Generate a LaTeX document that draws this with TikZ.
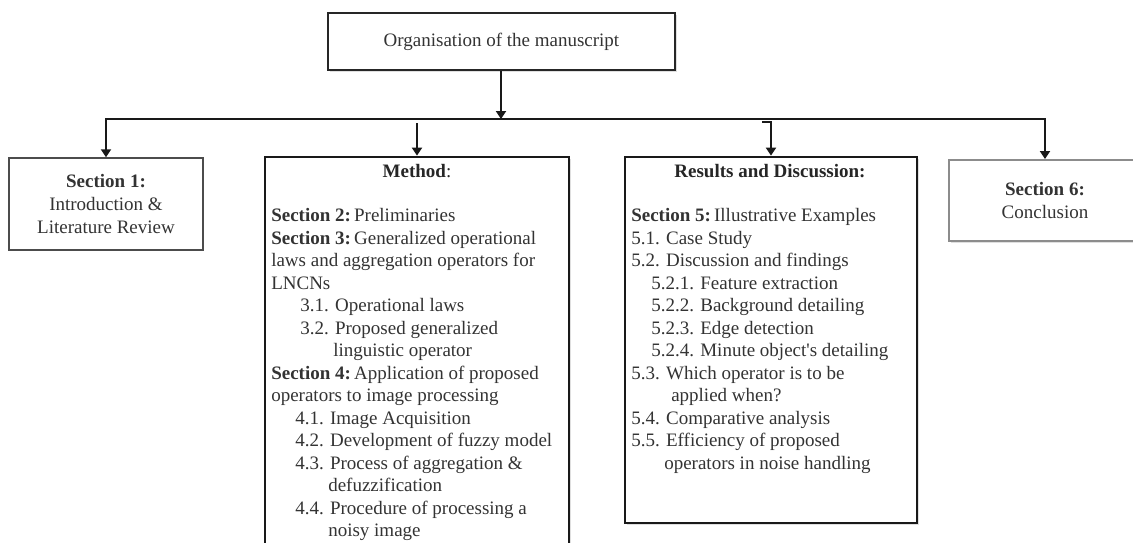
\documentclass[tikz,border=0pt]{standalone}
\usepackage{fontspec}
\setmainfont{Liberation Serif}
\newfontfamily\rawserif{Liberation Serif}[Ligatures=TeXOff]
\usetikzlibrary{arrows.meta,shadows}
\newcommand\myfs{\fontsize{14.25pt}{16.9pt}\selectfont}
\begin{document}
\begin{tikzpicture}[x=0.75pt,y=-0.75pt,
  shad/.style={drop shadow={opacity=0.25,shadow xshift=1.2pt,shadow yshift=-1.2pt}},
  topbox/.style={draw=black!85,line width=1.3pt,fill=white,shad,inner sep=0pt,
    text=black!80,font=\myfs},
  bigbox/.style={draw=black!90,line width=2pt,fill=white,shad,inner sep=0pt},
  sbox/.style={draw=black!70,line width=1.1pt,fill=white,inner sep=0pt,align=center,
    text=black!80,font=\myfs},
  lbox/.style={draw=black!45,line width=1.5pt,fill=white,shad,inner sep=0pt,align=center,
    text=black!80,font=\myfs},
  conn/.style={line width=1.5pt,draw=black!90},
  arr/.style={conn,-{Triangle[length=6pt,width=7.5pt]}},
  txt/.style={anchor=base west,inner sep=0pt,text=black!80,font=\myfs},
  ttl/.style={inner sep=0pt,text=black!85,font=\myfs}
]
\useasboundingbox (0,0) rectangle (1133,543);
\begin{scope}
\clip (0,0) rectangle (1133,543);

% boxes
\node[topbox,minimum width=347*0.75pt,minimum height=57*0.75pt] (top) at (501.5,41.5)
  {Organisation of the manuscript};
\node[sbox,minimum width=194*0.75pt,minimum height=92*0.75pt] (sec1) at (106,204)
  {\textbf{Section 1:}\\Introduction \&\\Literature Review};
\node[bigbox,minimum width=304*0.75pt,minimum height=403*0.75pt] (method) at (417,358.5) {};
\node[bigbox,minimum width=292*0.75pt,minimum height=366*0.75pt] (results) at (771,340) {};
\node[lbox,minimum width=192*0.75pt,minimum height=81*0.75pt] (sec6) at (1045,200.5)
  {\textbf{Section 6:}\\Conclusion};

% connectors
\coordinate (bus) at (501,119);
\coordinate (mstart) at (417,123);
\coordinate (rhook) at (762,122);
\draw[arr] (top.south -| bus) -- (bus);
\draw[arr] (bus) -| (sec1.north);
\draw[arr] (bus) -| (sec6.north);
\draw[arr] (mstart) -- (method.north);
\draw[arr] (rhook) -| (results.north);

% method contents
\node[ttl] (mtitle) at (417,171) {\textbf{Method}:};
\foreach \myx/\mytext [count=\i from 0] in {
  271/{\textbf{Section 2:}\,Preliminaries},
  271/{\textbf{Section 3:}\,Generalized operational},
  271/{laws and aggregation operators for},
  271/{LNCNs},
  300/{3.1. Operational laws},
  300/{3.2. Proposed generalized},
  333/{linguistic operator},
  271/{\textbf{Section 4:}\,Application of proposed},
  271/{operators to image processing},
  295/{4.1. Image Acquisition},
  295/{4.2. Development of fuzzy model},
  295/{4.3. Process of aggregation \&},
  328/{defuzzification},
  295/{4.4. Procedure of processing a},
  328/{noisy image}}
  \node[txt] (m\i) at (\myx,221.5+\i*22.5) {\mytext};

% results contents
\node[ttl] (rtitle) at (770,171) {\textbf{Results and Discussion:}};
\foreach \myx/\mytext [count=\i from 0] in {
  631/{\textbf{Section 5:}\,Illustrative Examples},
  631/{5.1. Case Study},
  631/{5.2. Discussion and findings},
  651/{5.2.1. Feature extraction},
  651/{5.2.2. Background detailing},
  651/{5.2.3. Edge detection},
  651/{5.2.4. Minute object{\rawserif '}s detailing},
  631/{5.3. Which operator is to be},
  671/{applied when?},
  631/{5.4. Comparative analysis},
  631/{5.5. Efficiency of proposed},
  664/{operators in noise handling}}
  \node[txt] (r\i) at (\myx,221.5+\i*22.5) {\mytext};
\end{scope}
\end{tikzpicture}
\end{document}
